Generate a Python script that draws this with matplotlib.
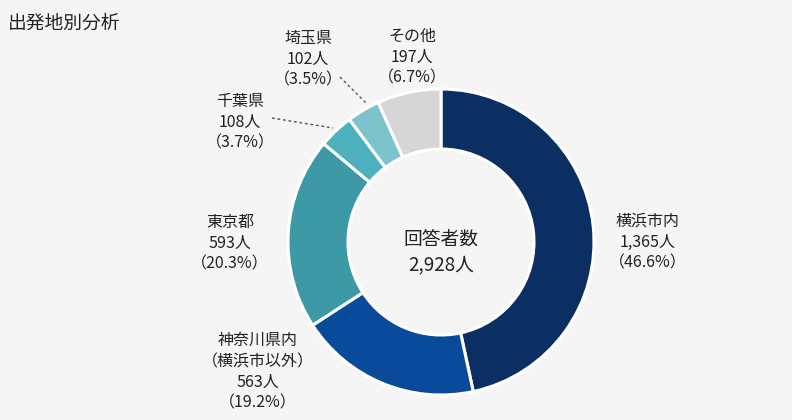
import matplotlib
matplotlib.use('Agg')
import matplotlib.pyplot as plt

plt.rcParams['font.family'] = ['Noto Sans CJK JP', 'DejaVu Sans']

W, H = 792, 420
BG = '#f5f5f5'

categories = ['横浜市内', '神奈川県内\n（横浜市以外）', '東京都', '千葉県', '埼玉県', 'その他']
counts = [1365, 563, 593, 108, 102, 197]
shares = [46.6, 19.2, 20.3, 3.7, 3.5, 6.7]
colors = ['#0b2f62', '#0a4a9b', '#3e99a6', '#4db0bd', '#7cc3ce', '#d6d6d6']
total = sum(counts)

# label anchor (pixel coords, top-left origin)
label_pos = [(648, 242), (258, 372), (230, 243), (240, 122), (308, 59), (412, 57)]
leaders = {3: [(272, 118), (333, 128)], 4: [(340, 77), (366, 103)]}


def py(y):
    return H - y


fig = plt.figure(figsize=(W / 100, H / 100), dpi=100)
fig.patch.set_facecolor(BG)
ax = fig.add_axes([0, 0, 1, 1])
ax.set_facecolor(BG)

ax.pie(counts, colors=colors, startangle=90, counterclock=False,
       center=(441, py(242)), radius=153,
       wedgeprops=dict(width=60, edgecolor='white', linewidth=2.2, joinstyle='round'))

# pie resets the limits, so set them afterwards
ax.set_xlim(0, W)
ax.set_ylim(0, H)
ax.set_aspect('equal')
ax.axis('off')

for i, name in enumerate(categories):
    x, y = label_pos[i]
    txt = '%s\n%s人\n（%.1f%%）' % (name, format(counts[i], ','), shares[i])
    ax.text(x, py(y), txt, ha='center', va='center', fontsize=11.5,
            color='#222222', linespacing=1.3)

for i, pts in leaders.items():
    ax.plot([p[0] for p in pts], [py(p[1]) for p in pts], color='#555555',
            lw=1, linestyle=(0, (2, 2)))

ax.text(441, py(252), '回答者数\n%s人' % format(total, ','), ha='center', va='center',
        fontsize=13.5, color='#222222', linespacing=1.3)

fig.text(8 / W, 1 - 23 / H, '出発地別分析', ha='left', va='center', fontsize=13.5,
         color='#222222')

fig.savefig('out.png', dpi=100, facecolor=BG)
